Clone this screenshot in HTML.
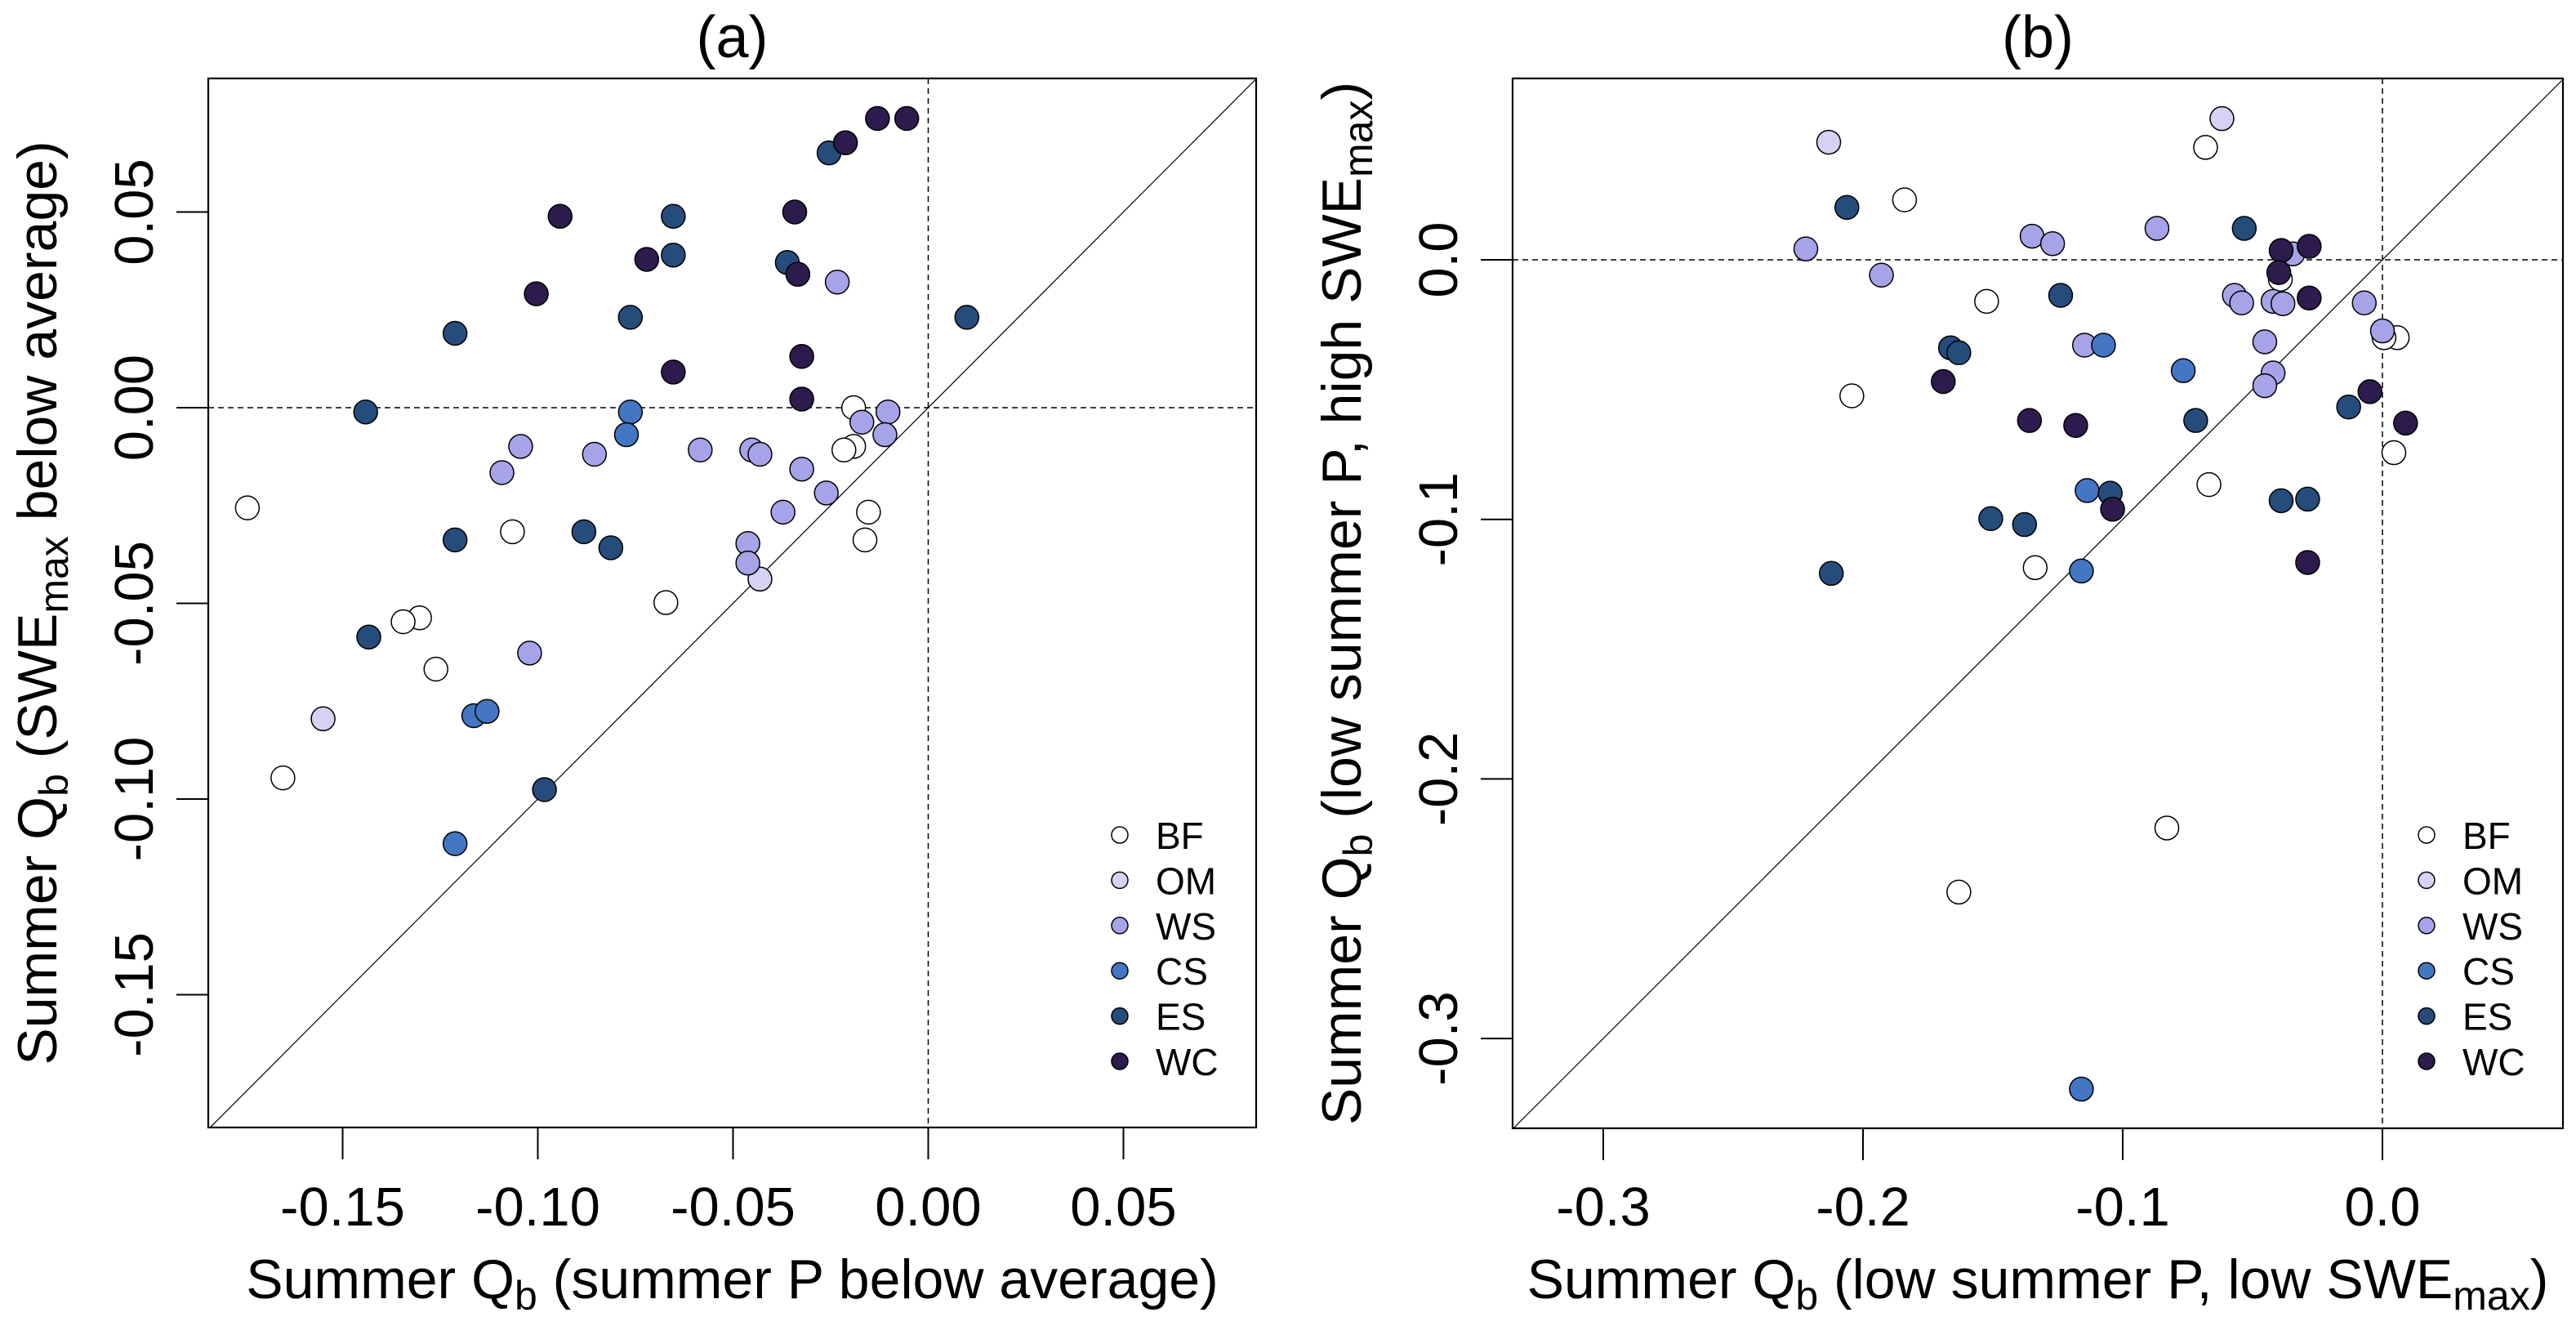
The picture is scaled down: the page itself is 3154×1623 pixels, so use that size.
<!DOCTYPE html>
<html><head><meta charset="utf-8">
<style>
html,body{margin:0;padding:0;background:#fff;width:3154px;height:1623px;overflow:hidden;}
svg{display:block;font-family:"Liberation Sans",Arial,sans-serif;}
</style></head>
<body>
<svg id="chart" width="3154" height="1623" viewBox="0 0 3154 1623" xmlns="http://www.w3.org/2000/svg"></svg>
<script>
// ---------- data ----------
const groups = ["BF","OM","WS","CS","ES","WC"];
const groupColors = ["#ffffff","#d6d2f4","#a7a3e8","#4376c3","#264c7c","#2d1b4d"];

// Panel (a)
const aBF_x = [-0.0191,-0.0191,-0.0216,-0.1744,-0.0153,-0.0162,-0.1065,-0.0672,-0.1303,-0.1345,-0.1261,-0.1653];
const aBF_y = [0.0000,-0.0099,-0.0108,-0.0256,-0.0267,-0.0338,-0.0317,-0.0498,-0.0537,-0.0547,-0.0668,-0.0946];
const aOM_x = [-0.0431,-0.1550];
const aOM_y = [-0.0438,-0.0795];
const aWS_x = [-0.0233,-0.0103,-0.0170,-0.0111,-0.1044,-0.0855,-0.0584,-0.0452,-0.0431,-0.1092,-0.0324,-0.0261,-0.0372,-0.0462,-0.0462,-0.1021];
const aWS_y = [0.0321,-0.0011,-0.0037,-0.0069,-0.0099,-0.0119,-0.0108,-0.0108,-0.0119,-0.0166,-0.0157,-0.0218,-0.0267,-0.0347,-0.0397,-0.0627];
const aCS_x = [-0.0763,-0.0773,-0.1164,-0.1130,-0.1212];
const aCS_y = [-0.0011,-0.0069,-0.0787,-0.0776,-0.1114];
const aES_x = [-0.0254,-0.0653,-0.0653,-0.0361,0.0099,-0.0763,-0.1212,-0.1441,-0.1212,-0.0882,-0.0813,-0.1433,-0.0983];
const aES_y = [0.0651,0.0489,0.0390,0.0371,0.0231,0.0231,0.0190,-0.0011,-0.0338,-0.0317,-0.0358,-0.0586,-0.0976];
const aWC_x = [-0.0055,-0.0130,-0.0212,-0.0943,-0.0342,-0.0721,-0.0334,-0.1004,-0.0324,-0.0653,-0.0324];
const aWC_y = [0.0739,0.0739,0.0677,0.0489,0.0500,0.0379,0.0341,0.0291,0.0131,0.0091,0.0022];

// Panel (b)
const bBF_x = [-0.0681,-0.1840,-0.1524,-0.2043,-0.0393,0.0057,0.0006,0.0044,-0.0668,-0.1337,-0.0830,-0.1631];
const bBF_y = [0.0433,0.0231,-0.0160,-0.0524,-0.0075,-0.0300,-0.0300,-0.0743,-0.0866,-0.1186,-0.2189,-0.2436];
const bOM_x = [-0.2132,-0.0618];
const bOM_y = [0.0453,0.0544];
const bWS_x = [-0.2220,-0.1929,-0.1349,-0.1270,-0.0868,-0.0570,-0.0542,-0.0421,-0.0383,-0.0345,-0.0070,-0.1147,-0.0453,-0.0421,-0.0453,0.0000];
const bWS_y = [0.0042,-0.0059,0.0091,0.0062,0.0121,-0.0137,-0.0166,-0.0160,-0.0169,0.0023,-0.0166,-0.0329,-0.0316,-0.0436,-0.0485,-0.0274];
const bCS_x = [-0.1074,-0.0767,-0.1137,-0.1159,-0.1159];
const bCS_y = [-0.0329,-0.0427,-0.0889,-0.1199,-0.3195];
const bES_x = [-0.2062,-0.0532,-0.1239,-0.1663,-0.1631,-0.0719,-0.0130,-0.1508,-0.1378,-0.1048,-0.0390,-0.0288,-0.2122];
const bES_y = [0.0202,0.0121,-0.0137,-0.0339,-0.0358,-0.0619,-0.0567,-0.0997,-0.1020,-0.0899,-0.0928,-0.0922,-0.1208];
const bWC_x = [-0.0390,-0.0282,-0.0399,-0.0282,-0.1691,-0.0048,0.0089,-0.1359,-0.1181,-0.1039,-0.0288];
const bWC_y = [0.0036,0.0052,-0.0049,-0.0147,-0.0469,-0.0508,-0.0629,-0.0619,-0.0638,-0.0961,-0.1166];

const aTicks = [-0.15,-0.10,-0.05,0.00,0.05];
const aTickLabels = ["-0.15","-0.10","-0.05","0.00","0.05"];
const bTicks = [-0.3,-0.2,-0.1,0.0];
const bTickLabels = ["-0.3","-0.2","-0.1","0.0"];

// ---------- drawing ----------
const NS = "http://www.w3.org/2000/svg";
const svg = document.getElementById("chart");
function mk(tag, attrs, parent){
  const e = document.createElementNS(NS, tag);
  for (const k in attrs) e.setAttribute(k, attrs[k]);
  (parent||svg).appendChild(e);
  return e;
}

function panel(cfg){
  const g = mk("g", {});
  
  
  const sx = v => cfg.x0 + v*cfg.kx;
  const sy = v => cfg.y0 - v*cfg.ky;
  const L=cfg.L,R=cfg.R,T=cfg.T,B=cfg.B;
  const clipId = cfg.name+"-clip";
  const cp = mk("clipPath",{id:clipId},g);
  mk("rect",{x:L,y:T,width:R-L,height:B-T},cp);
  const inner = mk("g",{"clip-path":"url(#"+clipId+")"},g);
  const h0 = mk("line",{x1:L,x2:R,y1:sy(0),y2:sy(0),stroke:"#000","stroke-width":1.5,"stroke-dasharray":"7 5"},inner);
  
  
  const v0 = mk("line",{x1:sx(0),x2:sx(0),y1:T,y2:B,stroke:"#000","stroke-width":1.5,"stroke-dasharray":"7 5"},inner);
  
  
  const d = mk("line",{x1:sx(-1),y1:sy(-1),x2:sx(1),y2:sy(1),stroke:"#000","stroke-width":1.2},inner);
  
  
  for (let gi=0; gi<groups.length; gi++){
    const xs = cfg.xs[gi], ys = cfg.ys[gi];
    for (let i=0;i<xs.length;i++){
      const c = mk("circle",{cx:sx(xs[i]),cy:sy(ys[i]),r:14.5,fill:groupColors[gi],stroke:"#000","stroke-width":1.5},inner);
      
      
    }
  }
  const box = mk("rect",{x:L,y:T,width:R-L,height:B-T,fill:"none",stroke:"#000","stroke-width":2.2},g);
  
  
  cfg.ticks.forEach((t,i)=>{
    mk("line",{x1:sx(t),x2:sx(t),y1:B,y2:B+39,stroke:"#000","stroke-width":2},g);
    const tx = mk("text",{x:sx(t),y:1500,"font-size":67,"text-anchor":"middle"},g);
    tx.textContent = cfg.labels[i];
    
    
  });
  cfg.ticks.forEach((t,i)=>{
    if (sy(t)<T || sy(t)>B) return;
    mk("line",{x1:L-39,x2:L,y1:sy(t),y2:sy(t),stroke:"#000","stroke-width":2},g);
    const bx = L-68;
    const ty = mk("text",{x:bx,y:sy(t),"font-size":67,"text-anchor":"middle",transform:"rotate(-90 "+bx+" "+sy(t)+")"},g);
    ty.textContent = cfg.labels[i];
    
    
  });
  const ti = mk("text",{x:(L+R)/2,y:70,"font-size":72,"text-anchor":"middle"},g);
  ti.textContent = cfg.title;
  
  
  const xl = mk("text",{x:(L+R)/2,y:1589,"font-size":68,"text-anchor":"middle"},g);
  xl.innerHTML = cfg.xlab;
  
  
  const lx = L-186, ly=(T+B)/2;
  const yl = mk("text",{x:lx,y:ly,"font-size":68,"text-anchor":"middle",transform:"rotate(-90 "+lx+" "+ly+")"},g);
  yl.innerHTML = cfg.ylab;
  
  
  const lg = mk("g",{},g);
  
  
  groups.forEach((nm,i)=>{
    const yy = 1022 + i*55.4;
    const e = mk("g",{},lg);
    
    
    mk("circle",{cx:R-167,cy:yy,r:10,fill:groupColors[i],stroke:"#000","stroke-width":1.5},e);
    const t = mk("text",{x:R-123,y:yy+17,"font-size":46},e);
    t.textContent = nm;
  });
}

const sub = (s)=>'<tspan dy="14" font-size="50">'+s+'</tspan><tspan dy="-14">';
panel({
  name:"panel-a", title:"(a)",
  L:255,R:1538,T:96,B:1380,
  x0:1136.5,kx:4780,y0:499,ky:4790,
  ticks:aTicks, labels:aTickLabels,
  xs:[aBF_x,aOM_x,aWS_x,aCS_x,aES_x,aWC_x],
  ys:[aBF_y,aOM_y,aWS_y,aCS_y,aES_y,aWC_y],
  xlab:'Summer Q'+sub('b')+' (summer P below average)</tspan>',
  ylab:'Summer Q'+sub('b')+' (SWE</tspan>'+sub('max')+' below average)</tspan>'
});
panel({
  name:"panel-b", title:"(b)",
  L:1852,R:3138,T:96,B:1381,
  x0:2917,kx:3180,y0:318,ky:3177,
  ticks:bTicks, labels:bTickLabels,
  xs:[bBF_x,bOM_x,bWS_x,bCS_x,bES_x,bWC_x],
  ys:[bBF_y,bOM_y,bWS_y,bCS_y,bES_y,bWC_y],
  xlab:'Summer Q'+sub('b')+' (low summer P, low SWE</tspan>'+sub('max')+')</tspan>',
  ylab:'Summer Q'+sub('b')+' (low summer P, high SWE</tspan>'+sub('max')+')</tspan>'
});
</script>
</body></html>
